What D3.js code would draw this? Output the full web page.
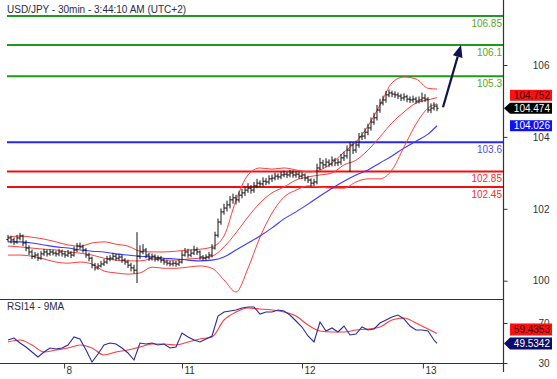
<!DOCTYPE html>
<html><head><meta charset="utf-8">
<script src="https://cdn.jsdelivr.net/npm/d3@7"></script>
<style>
body{margin:0;background:#fff}
svg{display:block;font-family:"Liberation Sans",Arial,sans-serif}
</style>
</head><body>
<svg id="c" width="557" height="379"></svg>
<script>
// ---------- DATA ----------
const title = "USD/JPY - 30min - 3:44:10 AM (UTC+2)";
const rsiTitle = "RSI14 - 9MA";

const firstOpen = 101.10;
const closes = [
101.14,101.09,101.04,101.14,101.19,101.01,100.88,100.78,100.67,100.70,
100.62,100.73,100.78,100.73,100.78,100.75,100.73,100.78,100.73,100.70,
100.75,100.70,100.83,100.93,100.91,100.83,100.70,100.62,100.44,100.37,
100.42,100.47,100.52,100.60,100.62,100.67,100.62,100.65,100.57,100.52,
100.44,100.37,100.31,100.67,100.78,100.83,100.70,100.62,100.67,100.60,
100.62,100.57,100.52,100.49,100.47,100.49,100.47,100.52,100.70,100.78,
100.70,100.75,100.83,100.78,100.65,100.62,100.65,100.70,100.88,101.21,
101.55,101.81,101.91,101.99,102.12,102.17,102.12,102.24,102.30,102.37,
102.42,102.37,102.48,102.55,102.53,102.60,102.58,102.66,102.68,102.73,
102.71,102.76,102.78,102.76,102.81,102.76,102.78,102.73,102.76,102.68,
102.63,102.55,102.58,102.94,103.07,103.02,103.09,103.04,103.14,103.07,
103.09,103.20,103.25,103.40,103.53,103.40,103.53,103.74,103.76,103.86,
103.97,104.12,104.23,104.43,104.61,104.69,104.82,104.87,104.84,104.82,
104.79,104.74,104.77,104.71,104.69,104.71,104.66,104.69,104.74,104.71,
104.43,104.48,104.53,104.474];
const highs = [
101.22,101.20,101.15,101.22,101.27,101.23,101.08,100.95,100.84,100.78,
100.76,100.80,100.86,100.84,100.85,100.84,100.81,100.86,100.84,100.80,
100.83,100.80,100.92,101.01,101.02,100.97,100.88,100.76,100.66,100.50,
100.49,100.55,100.60,100.68,100.70,100.76,100.73,100.72,100.70,100.62,
100.58,100.50,100.45,101.29,100.95,100.98,100.88,100.76,100.74,100.72,
100.69,100.68,100.62,100.58,100.55,100.56,100.55,100.60,100.80,100.88,
100.86,100.84,100.94,100.90,100.82,100.70,100.72,100.78,100.98,101.30,
101.64,101.90,102.02,102.10,102.22,102.28,102.25,102.34,102.40,102.46,
102.55,102.50,102.58,102.66,102.62,102.70,102.68,102.75,102.77,102.82,
102.80,102.85,102.87,102.84,102.89,102.88,102.86,102.84,102.83,102.80,
102.74,102.67,102.66,103.05,103.20,103.15,103.19,103.16,103.24,103.20,
103.18,103.30,103.36,103.52,103.62,103.60,103.64,103.84,103.86,103.96,
104.08,104.24,104.36,104.56,104.72,104.80,104.92,104.96,104.93,104.91,
104.88,104.85,104.86,104.82,104.78,104.80,104.77,104.78,104.88,104.84,
104.76,104.60,104.63,104.58];
const lows = [
101.04,101.00,100.96,100.99,101.08,100.93,100.80,100.70,100.60,100.61,
100.55,100.58,100.68,100.66,100.68,100.69,100.66,100.67,100.66,100.63,
100.65,100.62,100.66,100.78,100.85,100.76,100.63,100.54,100.36,100.30,
100.32,100.38,100.42,100.47,100.54,100.57,100.55,100.56,100.50,100.45,
100.37,100.28,100.22,99.98,100.60,100.72,100.62,100.55,100.56,100.53,
100.54,100.50,100.45,100.43,100.41,100.41,100.40,100.42,100.48,100.66,
100.63,100.64,100.70,100.70,100.58,100.55,100.56,100.59,100.64,100.84,
101.15,101.48,101.74,101.82,101.90,102.02,102.00,102.05,102.16,102.22,
102.30,102.28,102.30,102.42,102.45,102.46,102.50,102.52,102.58,102.62,
102.64,102.65,102.70,102.68,102.70,102.69,102.69,102.66,102.66,102.60,
102.55,102.46,102.48,102.52,102.88,102.93,102.96,102.96,102.98,102.99,
102.99,103.02,103.12,103.18,102.84,103.30,103.33,103.46,103.66,103.68,
103.78,103.90,104.05,104.16,104.36,104.55,104.62,104.76,104.76,104.74,
104.71,104.66,104.67,104.63,104.61,104.62,104.59,104.60,104.63,104.64,
104.36,104.35,104.42,104.40];

// indicator samples (bar index -> value)
const bandIdx = [0,4,8,12,16,20,24,28,32,36,40,44,48,52,56,60,64,68,72,76,80,84,88,92,96,100,104,108,112,116,120,124,128,132,136,140,143];
const bbUpper = [101.16,101.19,101.16,101.11,101.04,100.96,100.93,101.01,101.04,100.98,100.93,100.80,100.78,100.78,100.80,100.83,100.85,100.91,101.19,102.11,102.76,102.94,102.91,102.94,102.89,102.84,102.89,103.07,103.35,103.61,104.02,104.56,105.13,105.28,105.23,104.99,104.97];
const bbMid = [100.93,100.91,100.88,100.85,100.83,100.78,100.75,100.70,100.62,100.57,100.55,100.55,100.60,100.57,100.57,100.60,100.62,100.67,100.91,101.27,101.68,102.04,102.30,102.45,102.63,102.71,102.76,102.81,103.02,103.14,103.40,103.74,104.10,104.38,104.61,104.69,104.752];
const bbLower = [100.70,100.70,100.67,100.60,100.52,100.49,100.52,100.47,100.29,100.24,100.21,100.24,100.39,100.36,100.36,100.39,100.42,100.36,100.06,99.75,100.36,101.16,101.78,102.19,102.37,102.48,102.45,102.42,102.42,102.58,102.66,102.66,102.89,103.48,104.07,104.48,104.59];
const maLine = [101.04,101.04,101.01,100.96,100.91,100.88,100.83,100.80,100.78,100.73,100.70,100.67,100.65,100.62,100.60,100.57,100.55,100.57,100.65,100.83,101.01,101.19,101.40,101.63,101.81,102.01,102.22,102.42,102.60,102.76,102.89,103.07,103.25,103.45,103.63,103.81,104.026];

const rsiIdx = [0,2,4,6,8,10,12,14,16,18,20,22,24,26,28,30,32,34,36,38,40,42,44,46,48,50,52,54,56,58,60,62,64,66,68,70,72,74,76,78,80,82,84,86,88,90,92,94,96,98,100,102,104,106,108,110,112,114,116,118,120,122,124,126,128,130,132,134,136,138,140,142,143];
const rsiVals = [
53,55,50,46,41,36,41,45,44,45,
48,56,54,43,31,39,48,50,49,45,
40,33,50,49,50,48,49,45,46,60,
56,53,51,54,57,77,81,82,83,85,
86,86,79,81,81,83,82,78,72,66,
57,51,71,62,65,61,67,58,59,66,
63,64,70,73,76,78,74,67,63,63,
62,53,49.5342];
const rsiMa = [51,53,48,41,43,45,48,45,38,41,43,46,49,49,48,51,54,56,73,81,85,84,83,81,77,68,62,61,61,63,64,66,73,75,70,64,59.4353];

const resistLevels = [106.85, 106.1, 105.3];
const resistLabels = ["106.85", "106.1", "105.3"];
const pivotLevels = [103.6];
const pivotLabels = ["103.6"];
const supportLevels = [102.85, 102.45];
const supportLabels = ["102.85", "102.45"];

const priceTicks = [100, 102, 104, 106];
const rsiTicks = [30, 70];
const dayTickIdx = [18.7, 58, 98, 138.3];
const dayLabels = ["8", "11", "12", "13"];

const priceMarkerVals = [104.752, 104.474, 104.026];
const rsiMarkerVals = [59.4353, 49.5342];
const arrowFrom = [145, 104.5];
const arrowTo = [151, 106.1];

// ---------- LAYOUT ----------
const svg = d3.select("#c");
const plotL = 7, plotR = 503, mainB = 299, rsiB = 363;
const x = d3.scaleLinear().domain([0, closes.length - 1]).range([8, 437]);
const y = d3.scaleLinear().domain([99.57, 107.26]).range([mainB, 0]);
const yAxisLbl = d3.scaleLinear().domain([100, 106]).range([280.7, 65]);
const yR = d3.scaleLinear().domain([30, 94]).range([rsiB, mainB]);

svg.append("defs").append("clipPath").attr("id","mainClip")
  .append("rect").attr("x",0).attr("y",0).attr("width",plotR).attr("height",mainB);

// title
svg.append("text").attr("x",7).attr("y",13).attr("font-size",10).attr("fill","#2a2a48").text(title);

// level lines
function levelGroup(vals, labels, lineCol, textCol){
  vals.forEach((v,i)=>{
    svg.append("line").attr("x1",plotL).attr("x2",plotR).attr("y1",y(v)).attr("y2",y(v))
      .attr("stroke",lineCol).attr("stroke-width",2);
    svg.append("text").attr("x",plotR-1).attr("y",y(v)+11).attr("text-anchor","end")
      .attr("font-size",10).attr("fill",textCol).text(labels[i]);
  });
}
levelGroup(resistLevels, resistLabels, "#1f9a1f", "#5aa62a");
levelGroup(pivotLevels, pivotLabels, "#2828ee", "#5050e8");
levelGroup(supportLevels, supportLabels, "#f01010", "#f03030");

const gMain = svg.append("g").attr("clip-path","url(#mainClip)");
const line = d3.line().x(d=>x(d[0])).y(d=>y(d[1])).curve(d3.curveMonotoneX);
[[bbUpper,"#ff4040"],[bbMid,"#ff4040"],[bbLower,"#ff4040"]].forEach(([arr,col])=>{
  gMain.append("path").attr("d", line(d3.zip(bandIdx, arr))).attr("fill","none")
    .attr("stroke",col).attr("stroke-width",1);
});
gMain.append("path").attr("d", line(d3.zip(bandIdx, maLine))).attr("fill","none")
  .attr("stroke","#3a3aff").attr("stroke-width",1.1);

// OHLC bars
const opens = closes.map((c,i)=> i===0 ? firstOpen : closes[i-1]);
gMain.selectAll("path.bar").data(d3.range(closes.length)).join("path").attr("class","bar")
  .attr("d", i => `M${x(i)},${y(highs[i])}V${y(lows[i])}M${x(i)-1.6},${y(opens[i])}H${x(i)}M${x(i)},${y(closes[i])}H${x(i)+1.6}`)
  .attr("fill","none").attr("stroke","#151515").attr("stroke-width",1);

// arrow
(function(){
  const x1=x(arrowFrom[0]), y1=y(arrowFrom[1]), x2=x(arrowTo[0]), y2=y(arrowTo[1]);
  const a=Math.atan2(y2-y1,x2-x1), L=12, w=5;
  const bx=x2-L*Math.cos(a), by=y2-L*Math.sin(a);
  svg.append("line").attr("x1",x1).attr("y1",y1).attr("x2",bx).attr("y2",by)
    .attr("stroke","#11114f").attr("stroke-width",2.2);
  svg.append("path").attr("d",`M${x2},${y2}L${bx+w*Math.sin(a)},${by-w*Math.cos(a)}L${bx-w*Math.sin(a)},${by+w*Math.cos(a)}Z`)
    .attr("fill","#11114f");
})();

// RSI
const lineR = d3.line().x(d=>x(d[0])).y(d=>yR(d[1]));
svg.append("path").attr("d", lineR.curve(d3.curveMonotoneX)(d3.zip(bandIdx, rsiMa))).attr("fill","none")
  .attr("stroke","#ff3a3a").attr("stroke-width",1.1);
svg.append("path").attr("d", lineR.curve(d3.curveLinear)(d3.zip(rsiIdx, rsiVals))).attr("fill","none")
  .attr("stroke","#2a2a9e").attr("stroke-width",1.1);
svg.append("text").attr("x",7).attr("y",310).attr("font-size",10).attr("fill","#2a2a48").text(rsiTitle);

// frame
svg.append("line").attr("x1",0).attr("x2",plotR).attr("y1",mainB+0.5).attr("y2",mainB+0.5).attr("stroke","#333").attr("stroke-width",1.2);
svg.append("line").attr("x1",0).attr("x2",plotR).attr("y1",rsiB+0.5).attr("y2",rsiB+0.5).attr("stroke","#333").attr("stroke-width",1.2);
svg.append("line").attr("x1",plotR+0.5).attr("x2",plotR+0.5).attr("y1",0).attr("y2",372).attr("stroke","#333").attr("stroke-width",1.2);

// right axes
function rightAxis(scale, ticks){
  const g = svg.append("g").attr("transform",`translate(${plotR+0.5},0)`)
    .call(d3.axisRight(scale).tickValues(ticks).tickSize(4).tickFormat(d3.format("d")));
  g.select(".domain").remove();
  g.selectAll("line").attr("stroke","#333");
  g.selectAll("text").attr("x",46).attr("text-anchor","end").attr("font-size",10)
    .attr("font-family","Liberation Sans, Arial, sans-serif").attr("fill","#333");
}
rightAxis(yAxisLbl, priceTicks);
rightAxis(yR, rsiTicks);

// bottom axis
const gx = svg.append("g").attr("transform",`translate(0,${rsiB+0.5})`)
  .call(d3.axisBottom(x).tickValues(dayTickIdx).tickSize(5).tickFormat((d,i)=>dayLabels[i]));
gx.select(".domain").remove();
gx.selectAll("line").attr("stroke","#333");
gx.selectAll("text").attr("x",2).attr("y",3).attr("text-anchor","start").attr("font-size",10)
  .attr("font-family","Liberation Sans, Arial, sans-serif").attr("fill","#333");

// value markers
function markers(scale, vals, styles, h){
  const cy = vals.map(v=>scale(v));
  for(let i=cy.length-2;i>=0;i--){ if(cy[i] > cy[i+1]-h-2) cy[i] = cy[i+1]-h-2; }
  vals.forEach((v,i)=>{
    const s = styles[i], c = cy[i];
    if(s.arrow){
      svg.append("path").attr("d",`M${plotR+1},${c}L${510},${c-h/2}H552V${c+h/2}H510Z`).attr("fill",s.bg);
    } else {
      svg.append("rect").attr("x",510).attr("y",c-h/2).attr("width",42).attr("height",h).attr("fill",s.bg);
    }
    svg.append("text").attr("x",550).attr("y",c+3.6).attr("text-anchor","end").attr("font-size",10)
      .attr("fill",s.fg).text(s.fmt(v));
  });
}
markers(y, priceMarkerVals, [
  {bg:"#ff1010", fg:"#3a0000", fmt:d3.format(".3f")},
  {bg:"#000000", fg:"#ffffff", fmt:d3.format(".3f"), arrow:true},
  {bg:"#1010ff", fg:"#ffffff", fmt:d3.format(".3f")}], 11);
markers(yR, rsiMarkerVals, [
  {bg:"#ff1010", fg:"#3a0000", fmt:d3.format(".4f")},
  {bg:"#0c0c6c", fg:"#ffffff", fmt:d3.format(".4f"), arrow:true}], 12);
</script>
</body></html>
